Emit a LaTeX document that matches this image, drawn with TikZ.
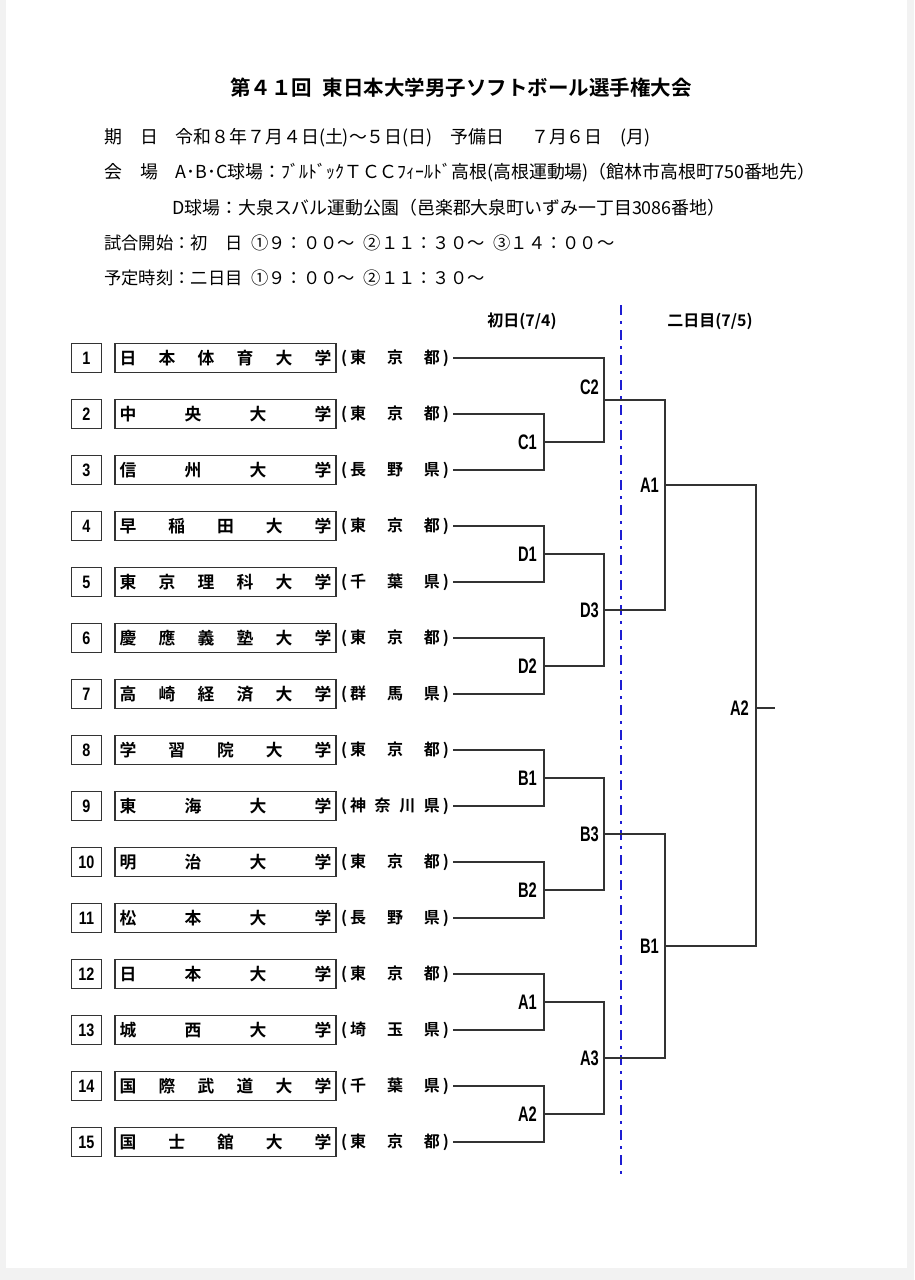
\documentclass[tikz,border=0pt]{standalone}
\usepackage{fontspec}
\newfontfamily\jp{Noto Sans CJK JP}[BoldFont={Noto Sans CJK JP Bold}]
\newfontfamily\lab{Liberation Sans}[FakeStretch=0.7]
\newfontfamily\numf{Liberation Sans}[FakeStretch=0.8]
\definecolor{linec}{HTML}{333333}
\definecolor{dblue}{HTML}{1E1ED2}
\definecolor{pagegrey}{HTML}{F2F2F2}
\begin{document}
\begin{tikzpicture}[x=1pt,y=-1pt,
  numbox/.style={draw=linec, line width=1.9pt, minimum width=30pt, minimum height=29pt, inner sep=0pt, font=\numf\bfseries\fontsize{18}{19}\selectfont},
  namebox/.style={draw=linec, line width=1.9pt, text width=212pt, inner xsep=4.5pt, inner ysep=0pt, minimum height=29pt, font=\jp\bfseries\fontsize{16.8}{19}\selectfont},
  pref/.style={text width=108pt, inner sep=0pt, font=\jp\bfseries\fontsize{16}{18}\selectfont},
  conn/.style={draw=linec, line width=1.5pt},
  lbl/.style={inner sep=0pt, anchor=east, font=\lab\bfseries\fontsize{21}{22}\selectfont},
  hdr/.style={inner sep=0pt, anchor=west, font=\jp\fontsize{17.9}{19}\selectfont},
  hdrb/.style={inner sep=0pt, anchor=west, font=\jp\fontsize{17.3}{19}\selectfont},
  dayhdr/.style={inner sep=0pt, font=\jp\bfseries\fontsize{16}{17}\selectfont}]
\useasboundingbox (0,0) rectangle (914,1280);
\fill[pagegrey] (0,0) rectangle (914,1280);
\fill[white] (6,0) rectangle (907,1268);

% title and header
\node[inner sep=0pt, font=\jp\bfseries\fontsize{20.5}{22}\selectfont] (title) at (461,88) {第４１回\hspace{0.5em}東日本大学男子ソフトボール選手権大会};
\node[hdr] (h1) at (104,138) {期　日　令和８年７月４日(土)～５日(日)　予備日\hspace{1.5em}７月６日\hspace{1em}(月)};
\node[hdr] (h2) at (104,173) {会　場　A･B･C球場：ﾌﾞﾙﾄﾞｯｸＴＣＣﾌｨｰﾙﾄﾞ高根(高根運動場)（館林市高根町750番地先）};
\node[hdr] (h3) at (172,208) {D球場：大泉スバル運動公園（邑楽郡大泉町いずみ一丁目3086番地）};
\node[hdrb] (h4) at (104,243) {試合開始：初　日\hspace{0.5em}①９：００～\hspace{0.5em}②１１：３０～\hspace{0.5em}③１４：００～};
\node[hdrb] (h5) at (104,278) {予定時刻：二日目\hspace{0.5em}①９：００～\hspace{0.5em}②１１：３０～};

\node[dayhdr] (d1h) at (522,321) {初日(7/4)};
\node[dayhdr] (d2h) at (710,321) {二日目(7/5)};

\draw[dblue, line width=2.2pt, dash pattern=on 10pt off 6pt on 2.5pt off 6.5pt] (621,305) -- (621,1175);

% rows
\foreach \i/\nm/\pf in {
  1/{日\hfill 本\hfill 体\hfill 育\hfill 大\hfill 学}/{東\hfill 京\hfill 都},
  2/{中\hfill 央\hfill 大\hfill 学}/{東\hfill 京\hfill 都},
  3/{信\hfill 州\hfill 大\hfill 学}/{長\hfill 野\hfill 県},
  4/{早\hfill 稲\hfill 田\hfill 大\hfill 学}/{東\hfill 京\hfill 都},
  5/{東\hfill 京\hfill 理\hfill 科\hfill 大\hfill 学}/{千\hfill 葉\hfill 県},
  6/{慶\hfill 應\hfill 義\hfill 塾\hfill 大\hfill 学}/{東\hfill 京\hfill 都},
  7/{高\hfill 崎\hfill 経\hfill 済\hfill 大\hfill 学}/{群\hfill 馬\hfill 県},
  8/{学\hfill 習\hfill 院\hfill 大\hfill 学}/{東\hfill 京\hfill 都},
  9/{東\hfill 海\hfill 大\hfill 学}/{神\hfill 奈\hfill 川\hfill 県},
  10/{明\hfill 治\hfill 大\hfill 学}/{東\hfill 京\hfill 都},
  11/{松\hfill 本\hfill 大\hfill 学}/{長\hfill 野\hfill 県},
  12/{日\hfill 本\hfill 大\hfill 学}/{東\hfill 京\hfill 都},
  13/{城\hfill 西\hfill 大\hfill 学}/{埼\hfill 玉\hfill 県},
  14/{国\hfill 際\hfill 武\hfill 道\hfill 大\hfill 学}/{千\hfill 葉\hfill 県},
  15/{国\hfill 士\hfill 舘\hfill 大\hfill 学}/{東\hfill 京\hfill 都}} {
  \pgfmathsetmacro\yy{358+(\i-1)*56}
  \node[numbox] (n\i) at (86.5,\yy) {\i};
  \node[namebox] (u\i) at (225.5,\yy) {\nm};
  \node[pref] (p\i) at (395,\yy) {(\hspace{3pt}\pf\hspace{3pt})};
  \coordinate (e\i) at ([xshift=4pt]p\i.east);
}

% junctions
\coordinate (c1) at (544,442);
\coordinate (d1) at (544,554);
\coordinate (d2) at (544,666);
\coordinate (b1) at (544,778);
\coordinate (b2) at (544,890);
\coordinate (a1) at (544,1002);
\coordinate (a2) at (544,1114);
\coordinate (c2) at (604,400);
\coordinate (d3) at (604,610);
\coordinate (b3) at (604,834);
\coordinate (a3) at (604,1058);
\coordinate (s1) at (665,485);
\coordinate (s2) at (665,946);
\coordinate (fin) at (756,708);
\coordinate (finend) at (775,708);

\draw[conn] (e2) -| (c1) |- (e3);
\draw[conn] (e4) -| (d1) |- (e5);
\draw[conn] (e6) -| (d2) |- (e7);
\draw[conn] (e8) -| (b1) |- (e9);
\draw[conn] (e10) -| (b2) |- (e11);
\draw[conn] (e12) -| (a1) |- (e13);
\draw[conn] (e14) -| (a2) |- (e15);
\draw[conn] (e1) -| (c2) |- (c1);
\draw[conn] (d1) -| (d3) |- (d2);
\draw[conn] (b1) -| (b3) |- (b2);
\draw[conn] (a1) -| (a3) |- (a2);
\draw[conn] (c2) -| (s1) |- (d3);
\draw[conn] (b3) -| (s2) |- (a3);
\draw[conn] (s1) -| (fin) |- (s2);
\draw[conn] (fin) -- (finend);

% labels
\node[lbl] (lc1) at (537,442) {C1};
\node[lbl] (ld1) at (537,554) {D1};
\node[lbl] (ld2) at (537,666) {D2};
\node[lbl] (lb1) at (537,778) {B1};
\node[lbl] (lb2) at (537,890) {B2};
\node[lbl] (la1) at (537,1002) {A1};
\node[lbl] (la2) at (537,1114) {A2};
\node[lbl] (lc2) at (599,387) {C2};
\node[lbl] (ld3) at (599,610) {D3};
\node[lbl] (lb3) at (599,834) {B3};
\node[lbl] (la3) at (599,1058) {A3};
\node[lbl] (ls1) at (659,485) {A1};
\node[lbl] (ls2) at (659,946) {B1};
\node[lbl] (lfin) at (749,708) {A2};
\end{tikzpicture}
\end{document}
